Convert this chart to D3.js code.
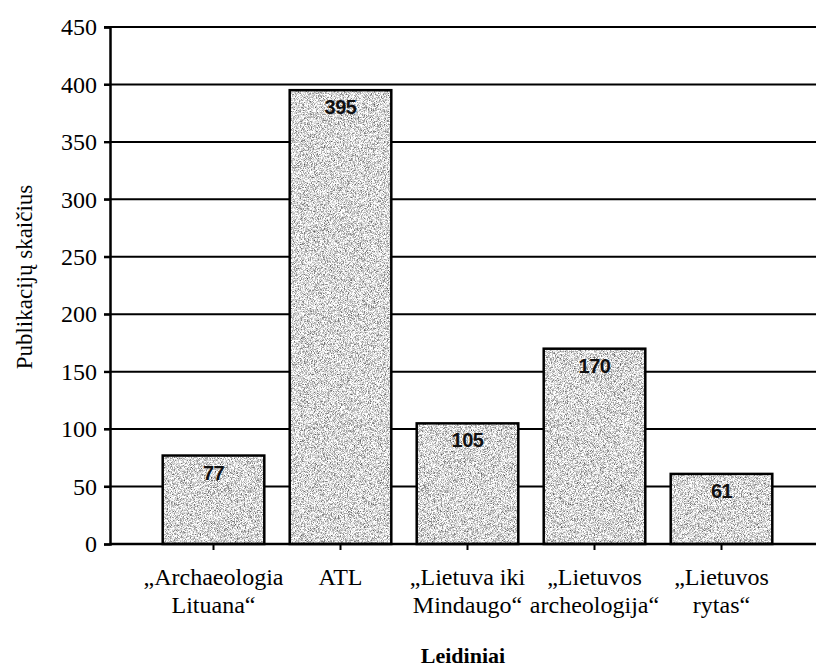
<!DOCTYPE html>
<html>
<head>
<meta charset="utf-8">
<script src="https://cdn.jsdelivr.net/npm/d3@7"></script>
<style>
  body { margin: 0; background: #fff; }
  svg { display: block; }
</style>
</head>
<body>
<div id="chart"></div>
<script>
// leidiniai ir publikaciju skaicius
var categories = ["Archaeologia Lituana", "ATL", "Lietuva iki Mindaugo", "Lietuvos archeologija", "Lietuvos rytas"];
var catLines = [["„Archaeologia", "Lituana“"], ["ATL"], ["„Lietuva iki", "Mindaugo“"], ["„Lietuvos", "archeologija“"], ["„Lietuvos", "rytas“"]];
var values = [77, 395, 105, 170, 61];
var yTicks = [0, 50, 100, 150, 200, 250, 300, 350, 400, 450];

var width = 816, height = 668;
var serif = "'Liberation Serif', 'Times New Roman', serif";

var svg = d3.select("#chart").append("svg")
    .attr("width", width)
    .attr("height", height);

// grudeta pilka tekstura stulpeliams
var defs = svg.append("defs");
var filt = defs.append("filter").attr("id", "grain")
    .attr("x", 0).attr("y", 0).attr("width", 1).attr("height", 1)
    .attr("color-interpolation-filters", "sRGB");
filt.append("feTurbulence")
    .attr("type", "fractalNoise")
    .attr("baseFrequency", 1.3)
    .attr("numOctaves", 2)
    .attr("seed", 3)
    .attr("result", "noise");
filt.append("feColorMatrix")
    .attr("in", "noise")
    .attr("type", "matrix")
    .attr("values", "1.5 0 0 0 0.1  1.5 0 0 0 0.1  1.5 0 0 0 0.1  0 0 0 0 1")
    .attr("result", "tex");
filt.append("feComposite").attr("in", "tex").attr("in2", "SourceGraphic").attr("operator", "in");

var x = d3.scaleBand()
    .domain(categories)
    .range([150, 785])
    .paddingInner(0.2)
    .paddingOuter(0.1);

var y = d3.scaleLinear()
    .domain([0, 450])
    .range([544, 27]);

// tinklelis
svg.append("g").selectAll("line").data(yTicks.slice(1)).join("line")
    .attr("x1", 104).attr("x2", width)
    .attr("y1", d => y(d)).attr("y2", d => y(d))
    .attr("stroke", "#000").attr("stroke-width", 2);

// y asis
var yAxis = svg.append("g")
    .attr("transform", "translate(110,0)")
    .call(d3.axisLeft(y).tickValues(yTicks).tickSize(6).tickPadding(7));
yAxis.select(".domain").attr("stroke-width", 2.5);
yAxis.selectAll(".tick line").attr("stroke-width", 2);
yAxis.selectAll(".tick text")
    .attr("font-family", serif)
    .attr("font-size", 24)
    .attr("fill", "#000");

// stulpeliai
var bars = svg.append("g").selectAll("g").data(values).join("g");
bars.append("rect")
    .attr("x", (d, i) => x(categories[i]))
    .attr("y", d => y(d))
    .attr("width", x.bandwidth())
    .attr("height", d => y(0) - y(d))
    .attr("fill", "#bbb")
    .attr("filter", "url(#grain)");
bars.append("rect")
    .attr("x", (d, i) => x(categories[i]))
    .attr("y", d => y(d))
    .attr("width", x.bandwidth())
    .attr("height", d => y(0) - y(d))
    .attr("fill", "none")
    .attr("stroke", "#000")
    .attr("stroke-width", 2.5);
bars.append("text")
    .attr("x", (d, i) => x(categories[i]) + x.bandwidth() / 2)
    .attr("y", d => y(d) + 24)
    .attr("text-anchor", "middle")
    .attr("font-family", "'Liberation Sans', Arial, sans-serif")
    .attr("font-weight", "bold")
    .attr("font-size", 20)
    .attr("letter-spacing", -0.5)
    .attr("fill", "#111")
    .text(d => d);

// x asis
svg.append("line")
    .attr("x1", 110).attr("x2", width)
    .attr("y1", y(0)).attr("y2", y(0))
    .attr("stroke", "#000").attr("stroke-width", 2.5);
svg.append("g").selectAll("line").data(categories).join("line")
    .attr("x1", d => x(d) + x.bandwidth() / 2)
    .attr("x2", d => x(d) + x.bandwidth() / 2)
    .attr("y1", y(0)).attr("y2", y(0) + 6)
    .attr("stroke", "#000").attr("stroke-width", 2);

var xl = svg.append("g").selectAll("text").data(categories).join("text")
    .attr("text-anchor", "middle")
    .attr("font-family", serif)
    .attr("font-size", 24)
    .attr("fill", "#000");
xl.selectAll("tspan").data((d, i) => catLines[i]).join("tspan")
    .attr("x", function () { var c = d3.select(this.parentNode).datum(); return x(c) + x.bandwidth() / 2; })
    .attr("y", (d, j) => 585 + j * 28)
    .text(d => d);

// asiu pavadinimai
svg.append("text")
    .attr("x", 463).attr("y", 663)
    .attr("text-anchor", "middle")
    .attr("font-family", serif)
    .attr("font-weight", "bold")
    .attr("font-size", 22)
    .text("Leidiniai");

svg.append("text")
    .attr("transform", "translate(32,277) rotate(-90)")
    .attr("text-anchor", "middle")
    .attr("font-family", serif)
    .attr("font-size", 23)
    .text("Publikacijų skaičius");
</script>
</body>
</html>
